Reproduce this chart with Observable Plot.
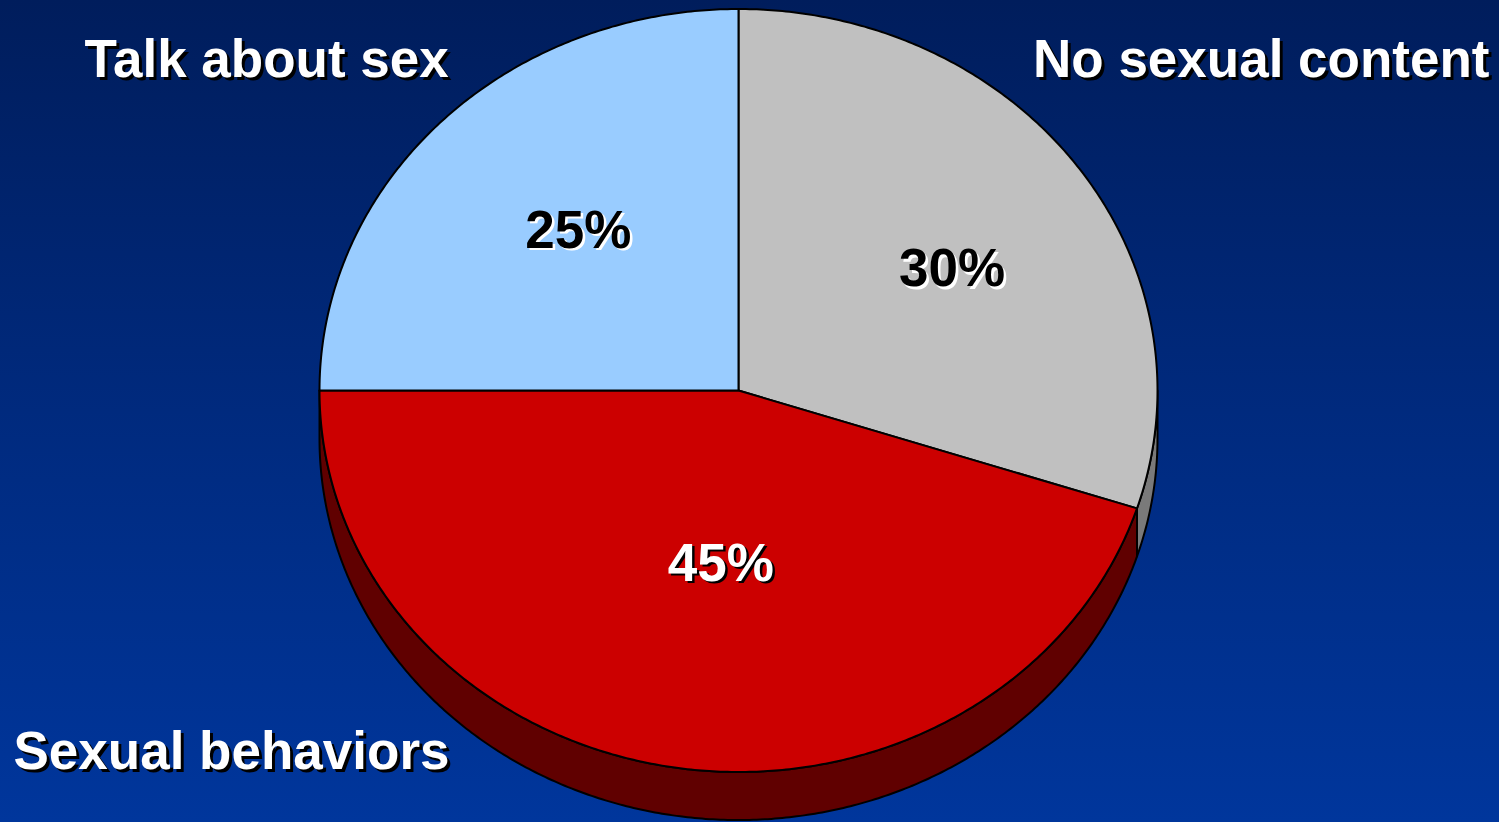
<!DOCTYPE html>
<html>
<head>
<meta charset="utf-8">
<script src="https://cdn.jsdelivr.net/npm/d3@7"></script>
<script src="https://cdn.jsdelivr.net/npm/@observablehq/plot@0.6"></script>
<style>
  html, body { margin: 0; padding: 0; }
  body { width: 1499px; height: 822px; overflow: hidden;
         background: linear-gradient(to bottom, #001d5c 0%, #002a7e 50%, #00369c 100%); }
  #chart svg { display: block; }
</style>
</head>
<body>
<div id="chart"></div>
<script>
// ---- data ----
const categories = ["No sexual content", "Sexual behaviors", "Talk about sex"];
const shares = [30, 45, 25];
const valueLabels = ["30%", "45%", "25%"];
const topColors = ["#c0c0c0", "#cc0000", "#99ccff"];
const sideColors = ["#7a7a7a", "#600000", "#4d6680"];

// ---- geometry helpers (angles clockwise from 12 o'clock) ----
const depth = 0.126;           // extrusion thickness in y units
const total = d3.sum(shares);
const cum = d3.cumsum(shares);
const slices = categories.map((c, i) => ({
  name: c, i,
  a0: (i === 0 ? 0 : cum[i - 1]) / total * 360,
  a1: cum[i] / total * 360
}));
const rad = a => a * Math.PI / 180;
const pt = (a, r = 1) => ({x: r * Math.sin(rad(a)), y: r * Math.cos(rad(a))});
function arc(a0, a1) {
  const n = Math.max(2, Math.ceil((a1 - a0) / 0.5));
  return d3.range(n + 1).map(k => pt(a0 + (a1 - a0) * k / n));
}

// top faces
const topPts = [];
for (const s of slices) {
  const pts = [{x: 0, y: 0}, ...arc(s.a0, s.a1), {x: 0, y: 0}];
  pts.forEach(p => topPts.push({...p, key: s.name, fill: topColors[s.i]}));
}
// side faces (visible front half: 90..270 deg)
const sidePts = [];
for (const s of slices) {
  const b0 = Math.max(s.a0, 90), b1 = Math.min(s.a1, 270);
  if (b1 <= b0) continue;
  const upper = arc(b0, b1);
  const lower = upper.map(p => ({x: p.x, y: p.y - depth})).reverse();
  const pts = [...upper, ...lower, upper[0]];
  pts.forEach(p => sidePts.push({...p, key: s.name, fill: sideColors[s.i]}));
}

// value label anchors
const labelAnchors = slices.map(s => ({...pt((s.a0 + s.a1) / 2, 0.5), text: valueLabels[s.i], i: s.i}));
const nudges = [[44, -9], [15, -15], [-12, -25]];   // label nudges in px
const valueColor = ["black", "white", "black"];
const shadowColor = ["white", "black", "white"];

const font = "'Liberation Sans', Arial, sans-serif";
const marks = [];
// sides, then tops
marks.push(Plot.line(sidePts, {x: "x", y: "y", z: "key", fill: "fill", stroke: "black", strokeWidth: 2, strokeLinejoin: "round", curve: "linear"}));
marks.push(Plot.line(topPts, {x: "x", y: "y", z: "key", fill: "fill", stroke: "black", strokeWidth: 2, strokeLinejoin: "round", curve: "linear"}));

// value labels with shadow
labelAnchors.forEach(l => {
  const [ndx, ndy] = nudges[l.i];
  marks.push(Plot.text([l], {x: "x", y: "y", text: "text", dx: ndx + 2.5, dy: ndy + 2.5, fill: shadowColor[l.i], fontSize: 53, fontWeight: "bold", fontFamily: font}));
  marks.push(Plot.text([l], {x: "x", y: "y", text: "text", dx: ndx, dy: ndy, fill: valueColor[l.i], fontSize: 53, fontWeight: "bold", fontFamily: font}));
});

// category labels (placed in frame corners)
const catLabels = [
  {i: 0, frameAnchor: "top-right", textAnchor: "end", dx: -10, dy: 39},
  {i: 1, frameAnchor: "bottom-left", textAnchor: "start", dx: 13, dy: -91},
  {i: 2, frameAnchor: "top-left", textAnchor: "start", dx: 84, dy: 39}
];
catLabels.forEach(c => {
  const common = {text: d => d, frameAnchor: c.frameAnchor, textAnchor: c.textAnchor, lineAnchor: "top",
                  fontSize: 53, fontWeight: "bold", fontFamily: font};
  marks.push(Plot.text([categories[c.i]], {...common, dx: c.dx + 3, dy: c.dy + 3, fill: "black"}));
  marks.push(Plot.text([categories[c.i]], {...common, dx: c.dx, dy: c.dy, fill: "white"}));
});

const chart = Plot.plot({
  width: 1499,
  height: 822,
  margin: 0,
  style: {background: "transparent", overflow: "visible"},
  x: {domain: [-1, 1], range: [319, 1157], axis: null},
  y: {domain: [-1, 1], range: [771.5, 8.5], axis: null},
  marks
});
document.getElementById("chart").append(chart);
</script>
</body>
</html>
